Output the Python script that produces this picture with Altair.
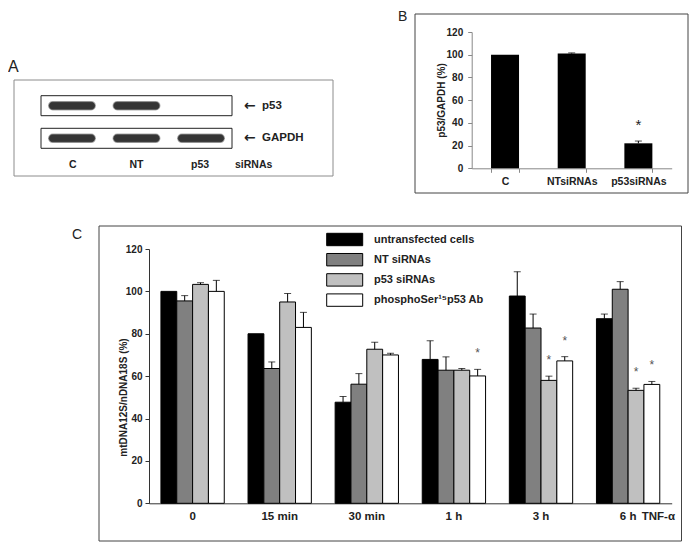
import altair as alt
import pandas as pd

# ---------------- data ----------------
# Panel A (western blot)
lanes = ["C", "NT", "p53"]
proteins = ["p53", "GAPDH"]
p53_band = [1, 1, 0]
gapdh_band = [1, 1, 1]

# Panel B
b_groups = ["C", "NTsiRNAs", "p53siRNAs"]
b_values = [100.0, 101.0, 22.0]
b_errors = [0.0, 0.6, 2.0]
b_signif = [False, False, True]

# Panel C
times = ["0", "15 min", "30 min", "1 h", "3 h", "6 h"]
series = ["untransfected  cells", "NT siRNAs", "p53 siRNAs", "phosphoSer¹⁵p53 Ab"]
untransfected = [100.0, 80.0, 47.7, 67.9, 97.8, 87.1]
untransfected_err = [0.0, 0.0, 2.7, 8.8, 11.5, 2.2]
nt_sirna = [95.5, 63.6, 56.2, 62.8, 82.7, 101.0]
nt_sirna_err = [2.5, 3.1, 5.0, 6.3, 6.6, 3.6]
p53_sirna = [103.3, 95.0, 72.7, 62.8, 58.0, 53.3]
p53_sirna_err = [0.8, 4.0, 3.3, 0.8, 2.0, 1.0]
phospho_ab = [100.0, 83.0, 70.0, 60.1, 67.2, 56.1]
phospho_ab_err = [5.2, 7.1, 0.8, 3.1, 2.0, 1.4]
untransfected_sig = [False] * 6
nt_sirna_sig = [False] * 6
p53_sirna_sig = [False, False, False, False, True, True]
phospho_ab_sig = [False, False, False, True, True, True]
c_colors = ["#000000", "#808080", "#c0c0c0", "#ffffff"]

# ---------------- tables ----------------
blot_df = pd.DataFrame(
    [{"lane": l, "protein": "p53", "band": v} for l, v in zip(lanes, p53_band)]
    + [{"lane": l, "protein": "GAPDH", "band": v} for l, v in zip(lanes, gapdh_band)]
)
blot_df = blot_df[blot_df["band"] > 0]
prot_df = pd.DataFrame({"protein": proteins})
lane_df = pd.DataFrame({"lane": lanes})

b_df = pd.DataFrame({"group": b_groups, "value": b_values, "err": b_errors, "sig": b_signif})
b_df["top"] = b_df["value"] + b_df["err"]

rows = []
for s, vals, errs, sigs in zip(
    series,
    [untransfected, nt_sirna, p53_sirna, phospho_ab],
    [untransfected_err, nt_sirna_err, p53_sirna_err, phospho_ab_err],
    [untransfected_sig, nt_sirna_sig, p53_sirna_sig, phospho_ab_sig],
):
    for t, v, e, g in zip(times, vals, errs, sigs):
        rows.append({"time": t, "series": s, "value": v, "err": e, "top": v + e, "sig": g})
c_df = pd.DataFrame(rows)
series_df = pd.DataFrame({"series": series})

W, H = 681, 534
FONT = "Liberation Sans"


def one(label):
    return alt.Chart(pd.DataFrame({"label": [label]}))


# ---------------- frames & panel letters ----------------
frame_a = one("A").mark_rect(fillOpacity=0, stroke="#8c8c8c", strokeWidth=1).encode(
    x=alt.value(6), x2=alt.value(325), y=alt.value(72), y2=alt.value(168))
frame_b = one("B").mark_rect(fillOpacity=0, stroke="#444444", strokeWidth=1).encode(
    x=alt.value(407), x2=alt.value(680), y=alt.value(6), y2=alt.value(185))
frame_c = one("C").mark_rect(fillOpacity=0, stroke="#444444", strokeWidth=1).encode(
    x=alt.value(91), x2=alt.value(673.5), y=alt.value(218), y2=alt.value(533))

letter_a = one("A").mark_text(align="left", baseline="alphabetic", fontSize=16, color="#222").encode(
    x=alt.value(0), y=alt.value(64), text="label:N")
letter_b = one("B").mark_text(align="left", baseline="alphabetic", fontSize=14, color="#222").encode(
    x=alt.value(390), y=alt.value(13), text="label:N")
letter_c = one("C").mark_text(align="left", baseline="alphabetic", fontSize=14, color="#222").encode(
    x=alt.value(64), y=alt.value(231), text="label:N")

# ---------------- panel A ----------------
lane_scale = alt.Scale(domain=lanes, range=[33, 224], paddingInner=0.28, paddingOuter=0.12)
lane_x = alt.X("lane:N", sort=lanes, axis=None, scale=lane_scale)
prot_y = alt.Y("protein:N", sort=proteins, axis=None,
               scale=alt.Scale(domain=proteins, range=[87.7, 140.3], paddingInner=0.387, paddingOuter=0))

a_boxes = alt.Chart(prot_df).mark_rect(fill="white", stroke="#222222", strokeWidth=1).encode(
    y=prot_y, x=alt.value(33), x2=alt.value(224))
a_bands = alt.Chart(blot_df).mark_rect(height=8, cornerRadius=4, color="#353535",
                                       stroke="#5a5a5a", strokeWidth=1.5, strokeOpacity=0.5).encode(
    x=lane_x, y=prot_y)
a_arrow_glyph = alt.Chart(prot_df).mark_text(
    text="\u2190", font="DejaVu Sans", align="left", baseline="middle", fontSize=14, fontWeight="bold",
    color="#222").encode(y=prot_y, x=alt.value(236))
a_arrow_text = alt.Chart(prot_df).mark_text(
    align="left", baseline="middle", fontSize=11.5, fontWeight="bold", color="#222").encode(
    y=prot_y, x=alt.value(254), text="protein:N")
panel_a = alt.layer(a_boxes, a_bands, a_arrow_glyph, a_arrow_text)

a_lanes = alt.Chart(lane_df).mark_text(baseline="middle", fontSize=10.5, fontWeight="bold", color="#222").encode(
    x=alt.X("lane:N", sort=lanes, axis=None, scale=lane_scale), y=alt.value(157), text="lane:N")
a_sirna = one("siRNAs").mark_text(align="left", baseline="middle", fontSize=10.5, fontWeight="bold",
                                  color="#222").encode(x=alt.value(227), y=alt.value(157), text="label:N")

# ---------------- panel B ----------------
b_x = alt.X("group:N", sort=b_groups, title=None,
            scale=alt.Scale(domain=b_groups, range=[463.7, 663.7], paddingInner=0.58, paddingOuter=0.29),
            axis=alt.Axis(orient="bottom", offset=160.3 - H, labelAngle=0, tickBand="extent", tickSize=4,
                          labelPadding=4, domainColor="#888888", tickColor="#888888", labelFontSize=10.5,
                          labelFontWeight="bold", labelColor="#222"))
b_y_scale = alt.Scale(domain=[0, 120], range=[160.3, 24])
b_bars = alt.Chart(b_df).mark_bar(color="black").encode(
    x=b_x,
    y=alt.Y("value:Q", scale=b_y_scale, title="p53/GAPDH  (%)",
            axis=alt.Axis(orient="left", offset=-463.7, values=[0, 20, 40, 60, 80, 100, 120], grid=False,
                          tickSize=4, labelPadding=5, domainColor="#888888", tickColor="#888888",
                          labelFontSize=10, labelFontWeight="bold", labelColor="#222",
                          titleFontSize=10, titleFontWeight="bold", titleColor="#222",
                          titleX=-25.7, titleY=92, titleBaseline="bottom")))
b_err_rule = alt.Chart(b_df).transform_filter("datum.err > 0").mark_rule(color="black").encode(
    x=alt.X("group:N", sort=b_groups), y=alt.Y("value:Q", scale=b_y_scale), y2="top:Q")
b_err_cap = alt.Chart(b_df).transform_filter("datum.err > 0").mark_tick(color="black", size=7, thickness=1).encode(
    x=alt.X("group:N", sort=b_groups), y=alt.Y("top:Q", scale=b_y_scale))
b_star = alt.Chart(b_df).transform_filter("datum.sig").mark_text(
    text="*", fontSize=15, color="#222", baseline="alphabetic", dy=-11).encode(
    x=alt.X("group:N", sort=b_groups), y=alt.Y("top:Q", scale=b_y_scale))
panel_b = alt.layer(b_bars, b_err_rule, b_err_cap, b_star)

# ---------------- panel C ----------------
c_x = alt.X("time:N", sort=times, title=None,
            scale=alt.Scale(domain=times, range=[141, 663.7], paddingInner=0.273, paddingOuter=0.137),
            axis=alt.Axis(orient="bottom", offset=495.3 - H, labelAngle=0, ticks=False, tickSize=0,
                          labelPadding=7, domainColor="#333333", labelFontSize=11.5, labelFontWeight="bold",
                          labelColor="#222"))
c_xo = alt.XOffset("series:N", sort=series, scale=alt.Scale(domain=series, paddingInner=0, paddingOuter=0))
c_y_scale = alt.Scale(domain=[0, 120], range=[495.3, 241])
c_color = alt.Color("series:N", sort=series, legend=None, scale=alt.Scale(domain=series, range=c_colors))

c_bars = alt.Chart(c_df).mark_bar(stroke="black", strokeWidth=1).encode(
    x=c_x, xOffset=c_xo, color=c_color,
    y=alt.Y("value:Q", scale=c_y_scale, title="mtDNA12S/nDNA18S  (%)",
            axis=alt.Axis(orient="left", offset=-141, values=[0, 20, 40, 60, 80, 100, 120], grid=False,
                          tickSize=4, labelPadding=3, domainColor="#333333", tickColor="#333333",
                          labelFontSize=10, labelFontWeight="bold", labelColor="#222",
                          titleFontSize=10, titleFontWeight="bold", titleColor="#222",
                          titleX=-21, titleY=389, titleBaseline="bottom")))
c_err_rule = alt.Chart(c_df).transform_filter("datum.err > 0").mark_rule(color="black").encode(
    x=alt.X("time:N", sort=times), xOffset=c_xo, y=alt.Y("value:Q", scale=c_y_scale), y2="top:Q")
c_err_cap = alt.Chart(c_df).transform_filter("datum.err > 0").mark_tick(color="black", size=7, thickness=1).encode(
    x=alt.X("time:N", sort=times), xOffset=c_xo, y=alt.Y("top:Q", scale=c_y_scale))
c_star = alt.Chart(c_df).transform_filter("datum.sig").mark_text(
    text="*", fontSize=12, color="#555", baseline="alphabetic", dy=-12).encode(
    x=alt.X("time:N", sort=times), xOffset=c_xo, y=alt.Y("top:Q", scale=c_y_scale))
panel_c = alt.layer(c_bars, c_err_rule, c_err_cap, c_star)

c_tnf = one("TNF-\u03b1").mark_text(align="left", baseline="alphabetic", fontSize=11.5, fontWeight="bold",
                                     color="#222").encode(x=alt.value(633.7), y=alt.value(512), text="label:N")

leg_y = alt.Y("series:N", sort=series, axis=None,
              scale=alt.Scale(domain=series, range=[225.3, 298.3], paddingInner=0.386, paddingOuter=0))
leg_rect = alt.Chart(series_df).mark_rect(stroke="black", strokeWidth=1).encode(
    y=leg_y, x=alt.value(318.7), x2=alt.value(354.7), color=c_color)
leg_text = alt.Chart(series_df).mark_text(align="left", baseline="middle", fontSize=11, fontWeight="bold",
                                          color="#222").encode(y=leg_y, x=alt.value(366), text="series:N")
legend_c = alt.layer(leg_rect, leg_text)

chart = alt.layer(
    frame_a, frame_b, frame_c, letter_a, letter_b, letter_c,
    panel_a, a_lanes, a_sirna,
    panel_b, panel_c, c_tnf, legend_c,
).resolve_scale(x="independent", y="independent", color="independent").resolve_axis(
    x="independent", y="independent"
).properties(width=W, height=H, padding=0, autosize="none").configure(
    font=FONT
).configure_view(stroke=None)

chart.save("out.html", embed_options={"renderer": "svg", "actions": False})
